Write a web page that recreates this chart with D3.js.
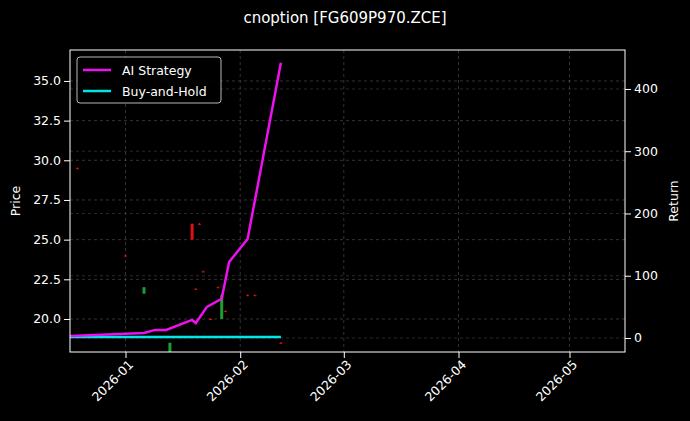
<!DOCTYPE html><html><head><meta charset="utf-8">
<script src="https://cdn.jsdelivr.net/npm/d3@7"></script>
<style>body{margin:0;background:#000}</style></head><body><svg id="c" width="690" height="421"></svg>
<script>
const stratDates=["2025-12-17","2026-01-06","2026-01-09","2026-01-12","2026-01-19","2026-01-20","2026-01-23","2026-01-27","2026-01-29","2026-02-03","2026-02-12"];
const stratRet=[3,8,13,13,29,24,50,63,122,159,442];
const holdDates=["2025-12-17","2026-02-12"];
const holdRet=[1.5,1.5];
const candleDates=["2025-12-19","2026-01-01","2026-01-06","2026-01-13","2026-01-19","2026-01-20","2026-01-21","2026-01-22","2026-01-24","2026-01-26","2026-01-27","2026-01-28","2026-02-03","2026-02-05","2026-02-12"];
const cOpen=[29.5,24.0,21.6,17.5,26.0,21.9,26.0,23.0,20.0,22.0,20.0,20.5,21.5,21.5,18.5];
const cClose=[29.5,24.0,22.0,18.5,25.0,21.9,26.0,23.0,20.0,22.0,21.5,20.5,21.5,21.5,18.5];
const cHigh=[29.55,24.05,22.0,18.5,26.0,21.95,26.05,23.05,20.05,22.05,21.6,20.55,21.55,21.55,18.55];
const cLow=[29.45,23.95,21.6,17.5,25.0,21.85,25.95,22.95,19.95,21.95,20.0,20.45,21.45,21.45,18.45];
const xTicks=["2026-01-01","2026-02-01","2026-03-01","2026-04-01","2026-05-01"];
const pTicks=[20,22.5,25,27.5,30,32.5,35];
const rTicks=[0,100,200,300,400];
const P=d3.timeParse("%Y-%m-%d");
const svg=d3.select("#c");
const L=70,R=625,T=50,B=352;
svg.append("rect").attr("width",690).attr("height",421).attr("fill","#000");
svg.append("clipPath").attr("id","cp").append("rect").attr("x",L).attr("y",T).attr("width",R-L).attr("height",B-T);
const x=d3.scaleTime().domain([P("2025-12-17"),P("2026-05-16")]).range([L,R]);
const y=d3.scaleLinear().domain([17.92,36.95]).range([B,T]);
const y2=d3.scaleLinear().domain([-22.5,462.6]).range([B,T]);
const g=svg.append("g").attr("clip-path","url(#cp)");
xTicks.forEach(t=>g.append("line").attr("x1",x(P(t))).attr("x2",x(P(t))).attr("y1",T).attr("y2",B).attr("stroke","#555").attr("stroke-dasharray","3,3").attr("stroke-width",0.6));
pTicks.forEach(t=>g.append("line").attr("x1",L).attr("x2",R).attr("y1",y(t)).attr("y2",y(t)).attr("stroke","#555").attr("stroke-dasharray","3,3").attr("stroke-width",0.6));
rTicks.forEach(t=>g.append("line").attr("x1",L).attr("x2",R).attr("y1",y2(t)).attr("y2",y2(t)).attr("stroke","#444").attr("stroke-dasharray","3,3").attr("stroke-width",0.6));
candleDates.forEach((d,i)=>{const up=cClose[i]>cOpen[i];const col=up?"#1f9e2f":"#e01010";const cx=x(P(d));
g.append("line").attr("x1",cx).attr("x2",cx).attr("y1",y(cHigh[i])).attr("y2",y(cLow[i])).attr("stroke",col).attr("stroke-width",1);
const top=y(Math.max(cOpen[i],cClose[i])),bot=y(Math.min(cOpen[i],cClose[i]));
g.append("rect").attr("x",cx-1.5).attr("width",3).attr("y",top).attr("height",Math.max(1,bot-top)).attr("fill",col);});
const ln=d3.line().x(d=>x(d[0])).y(d=>y2(d[1]));
g.append("path").attr("d",ln(holdDates.map((d,i)=>[P(d),holdRet[i]]))).attr("fill","none").attr("stroke","#00e5e5").attr("stroke-width",2.5);
g.append("path").attr("d",ln(stratDates.map((d,i)=>[P(d),stratRet[i]]))).attr("fill","none").attr("stroke","#ee10ee").attr("stroke-width",2.5);
svg.append("rect").attr("x",L).attr("y",T).attr("width",R-L).attr("height",B-T).attr("fill","none").attr("stroke","#fff").attr("stroke-width",1);
const ax=svg.append("g").attr("transform",`translate(0,${B})`).call(d3.axisBottom(x).tickValues(xTicks.map(P)).tickFormat(d3.timeFormat("%Y-%m")).tickSizeOuter(0));
ax.selectAll("text").attr("transform","rotate(-45)").attr("text-anchor","end").attr("dx","-0.3em").attr("dy","0.5em");
const ay=svg.append("g").attr("transform",`translate(${L},0)`).call(d3.axisLeft(y).tickValues(pTicks).tickFormat(d3.format(".1f")).tickSizeOuter(0));
const ay2=svg.append("g").attr("transform",`translate(${R},0)`).call(d3.axisRight(y2).tickValues(rTicks).tickSizeOuter(0));
[ax,ay,ay2].forEach(a=>{a.selectAll("path,line").attr("stroke","#fff");a.selectAll("text").attr("fill","#fff").attr("font-size",12.5).attr("font-family","DejaVu Sans");});
ax.select(".domain").remove();ay.select(".domain").remove();ay2.select(".domain").remove();
const tx=(t,xx,yy,s,rot)=>svg.append("text").text(t).attr("x",xx).attr("y",yy).attr("fill","#fff").attr("font-size",s).attr("font-family","DejaVu Sans").attr("text-anchor","middle").attr("transform",rot?`rotate(-90,${xx},${yy})`:null);
tx("cnoption [FG609P970.ZCE]",345,23,15);
tx("Price",20,201,12.5,true);
tx("Return",678,201,12.5,true);
const lg=svg.append("g");
lg.append("rect").attr("x",77).attr("y",57).attr("width",144).attr("height",46).attr("rx",3).attr("fill","#000").attr("stroke","#ccc").attr("opacity",0.9);
[["AI Strategy","#ee10ee",70],["Buy-and-Hold","#00e5e5",91]].forEach(([t,c,yy])=>{
lg.append("line").attr("x1",83).attr("x2",111).attr("y1",yy).attr("y2",yy).attr("stroke",c).attr("stroke-width",2.5);
lg.append("text").text(t).attr("x",122).attr("y",yy+4.5).attr("fill","#fff").attr("font-size",12.5).attr("font-family","DejaVu Sans");});
</script></body></html>
